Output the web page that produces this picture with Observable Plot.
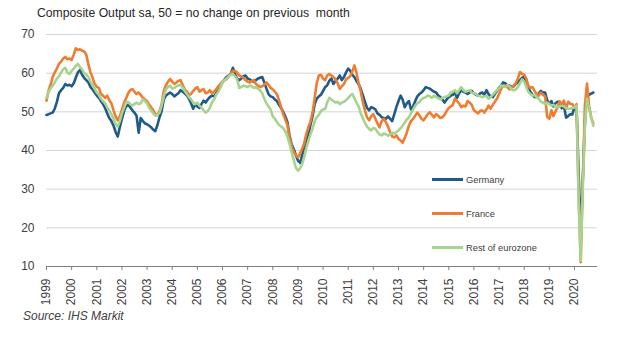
<!DOCTYPE html>
<html><head><meta charset="utf-8">
<script src="https://cdn.jsdelivr.net/npm/d3@7"></script>
<script src="https://cdn.jsdelivr.net/npm/@observablehq/plot@0.6"></script>
<style>
body{margin:0;background:#fff;font-family:"Liberation Sans",Arial,sans-serif;}
#wrap{position:relative;width:620px;height:341px;overflow:hidden;background:#fff;}
#title{position:absolute;left:37px;top:5px;font-size:12.2px;line-height:16px;color:#262626;white-space:pre;}
#chart{position:absolute;left:0;top:26px;}
#source{position:absolute;left:23px;top:308px;font-size:12px;line-height:16px;font-style:italic;color:#404040;}
.leg{position:absolute;left:432px;height:14px;font-size:9.3px;line-height:14px;color:#404040;white-space:nowrap;}
.leg span.sw{display:inline-block;width:31px;height:3px;vertical-align:middle;margin-right:3px;position:relative;top:-1px;}
</style>
</head><body>
<div id="wrap">
  <div id="title">Composite Output sa, 50 = no change on previous  month</div>
  <div id="chart"></div>
  <div id="legend"></div>
  <div id="source">Source: IHS Markit</div>
</div>
<script>
const seriesNames = ["Germany", "France", "Rest of eurozone"];
const seriesColors = ["#1f5b88", "#ee7d31", "#a6d38e"];
const startYear = 1999;
const yearTicks = [1999,2000,2001,2002,2003,2004,2005,2006,2007,2008,2009,2010,2011,2012,2013,2014,2015,2016,2017,2018,2019,2020];
const yTicks = [10,20,30,40,50,60,70];

const germany = [
49.2,49.4,49.6,49.8,50.8,52.6,54.8,55.6,56.2,57.2,56.8,57.0,
56.6,57.4,58.8,60.2,60.8,59.6,58.8,58.2,57.6,56.4,55.8,55.0,
54.2,53.6,52.8,52.0,51.0,49.6,48.4,47.6,46.4,44.8,43.6,46.0,
48.2,50.2,51.4,51.8,51.2,50.4,49.8,49.0,44.6,48.4,47.6,47.0,
46.8,46.4,46.0,45.4,45.0,46.6,48.6,50.2,53.2,54.2,54.6,55.0,
54.6,54.0,54.4,54.8,55.6,55.2,54.8,54.2,53.4,52.2,50.8,51.8,
51.4,51.0,52.0,52.9,52.4,53.2,53.8,54.2,54.0,54.8,55.8,56.8,
57.6,58.4,59.0,59.4,59.8,61.4,59.8,58.6,58.2,58.6,59.2,59.4,
58.6,58.4,58.0,57.8,58.2,58.6,58.8,59.0,57.6,56.0,54.6,54.0,
53.8,53.2,52.8,51.8,51.0,50.0,48.8,47.4,43.8,41.6,40.4,38.8,
37.4,36.8,38.6,40.6,42.6,44.2,46.6,48.8,52.0,53.4,54.0,54.4,
55.4,56.4,56.8,58.0,58.6,57.2,58.0,58.6,59.4,58.2,59.0,60.2,
61.2,60.6,59.6,59.0,58.0,57.2,56.0,54.4,52.6,51.0,50.4,51.2,
51.0,50.6,49.6,49.2,48.6,48.4,48.2,48.8,48.2,47.6,49.4,51.2,
52.8,54.2,53.2,51.2,52.2,52.8,50.6,51.4,52.8,54.0,54.6,55.0,
55.6,56.4,56.2,56.0,55.6,55.2,55.0,54.2,53.8,53.2,52.4,53.2,
53.8,54.2,54.4,55.0,53.6,54.8,55.6,55.2,55.0,54.6,55.0,55.4,
54.8,54.4,54.2,54.8,55.0,54.4,55.6,54.6,54.0,53.8,54.6,55.4,
56.2,56.8,57.6,57.4,56.8,56.8,56.4,56.6,57.2,57.6,58.2,58.8,
59.0,57.6,56.2,55.2,54.4,53.8,54.2,54.8,55.4,55.0,55.0,53.0,
52.1,52.8,51.4,52.2,52.6,52.6,50.9,51.7,48.5,48.9,49.4,49.3,
51.2,50.7,35.0,17.4,32.3,47.0,55.3,54.4,54.7,55.0
];

const france = [
52.9,55.6,57.0,59.0,60.2,61.2,62.4,63.0,63.8,64.2,63.6,63.8,
63.4,64.8,66.4,66.0,66.2,65.8,65.6,64.8,62.2,60.2,58.8,57.2,
56.4,56.2,54.6,54.2,53.6,54.2,53.0,52.2,50.4,48.8,47.8,48.8,
50.6,52.4,53.4,54.8,55.6,55.9,55.2,54.6,55.0,54.4,53.6,53.2,
52.8,51.8,51.2,50.4,49.4,49.2,50.2,52.0,55.4,56.8,57.8,58.5,
57.8,57.2,57.6,58.0,58.2,57.0,55.8,55.2,54.4,54.6,55.4,56.0,
56.4,55.2,55.6,55.9,54.8,55.0,55.6,54.8,55.2,55.8,56.6,57.2,
57.8,58.2,58.4,59.2,59.8,60.6,60.6,60.2,59.4,59.2,58.8,58.2,
57.8,57.6,58.0,58.2,57.2,56.8,56.4,56.6,57.0,57.6,57.0,56.2,
55.8,55.2,54.6,53.0,51.2,49.4,48.0,46.6,43.2,41.2,39.6,38.8,
38.2,39.2,40.4,41.8,44.2,46.0,47.4,49.8,53.6,57.4,59.4,59.6,
58.6,58.2,59.4,59.8,59.4,59.0,58.4,57.4,55.9,56.6,57.2,58.4,
58.8,59.2,60.4,62.0,60.2,57.4,55.4,52.6,50.4,48.6,47.8,48.8,
49.4,48.2,47.0,46.0,47.6,48.2,47.4,46.2,44.8,43.6,43.4,43.9,
43.0,42.6,42.0,43.2,44.6,46.4,47.6,48.2,49.0,49.8,49.1,48.2,
47.8,48.6,49.4,49.9,49.2,48.6,49.4,49.0,48.4,48.6,49.2,50.2,
51.0,51.4,51.8,53.4,52.8,52.2,51.2,51.6,51.4,52.8,52.4,51.8,
50.4,50.0,49.6,50.2,50.4,49.8,50.6,51.6,50.8,51.8,52.6,53.4,
54.6,56.0,56.8,56.6,56.4,55.8,56.2,56.8,57.4,58.6,60.3,59.8,
59.6,58.6,56.8,56.2,56.4,55.4,54.6,54.2,55.0,54.4,54.0,48.7,
48.2,50.4,48.9,50.1,51.2,52.7,51.9,52.9,50.8,52.6,52.1,52.0,
51.1,52.0,28.9,11.1,32.1,51.7,57.3,51.6,48.5,47.0
];

const restOfEurozone = [
53.6,55.2,56.0,56.8,57.6,58.6,59.2,60.2,61.0,61.4,60.2,59.8,
60.6,61.2,61.8,62.4,61.6,61.0,60.0,59.6,59.0,57.8,57.0,55.9,
55.0,54.4,53.4,52.8,52.2,51.2,50.4,49.4,48.2,46.8,46.2,47.6,
49.6,51.0,52.4,52.6,52.0,51.6,52.0,52.4,52.0,52.2,53.2,52.8,
52.2,51.0,50.4,49.6,49.0,49.2,49.8,51.6,54.0,55.8,56.4,56.8,
56.0,56.2,56.6,56.8,57.0,56.2,55.4,54.6,53.8,53.2,52.4,52.0,
52.4,51.6,51.2,50.4,49.8,50.2,51.0,52.4,53.2,54.4,55.2,56.2,
57.6,58.2,58.6,59.2,59.6,59.8,59.2,58.4,56.2,56.4,56.8,56.6,
56.4,56.8,56.6,56.2,56.4,56.0,55.6,54.8,53.4,52.2,51.4,50.6,
48.8,48.2,47.4,46.6,46.2,45.8,45.0,43.6,41.8,39.6,37.6,35.6,
34.8,35.4,36.4,38.2,40.6,42.4,44.2,45.6,47.6,48.6,49.2,50.2,
50.6,50.8,52.4,53.6,53.2,52.8,52.4,52.6,52.0,52.4,52.6,53.0,
53.6,54.2,54.6,53.6,52.4,51.4,49.6,48.4,47.2,46.2,45.6,45.2,
45.8,45.6,44.8,44.2,43.9,44.4,44.2,43.8,44.2,44.6,44.4,44.8,
45.2,45.8,46.4,47.2,48.0,48.6,49.6,50.6,51.6,52.2,52.6,53.2,
53.6,53.8,54.2,54.0,53.6,54.2,53.8,53.6,53.2,53.6,53.8,54.0,
54.2,55.0,55.2,55.6,54.8,55.6,56.4,55.6,55.2,55.4,55.6,55.0,
54.8,54.6,54.2,54.0,53.8,54.0,54.2,53.4,53.8,54.4,55.0,55.6,
56.0,56.8,56.6,56.4,57.0,56.6,55.8,55.6,55.8,56.4,57.4,58.4,
57.8,56.4,55.2,54.6,54.2,54.4,53.8,53.4,52.6,52.4,52.0,52.4,
52.0,51.6,51.8,51.4,51.2,51.4,51.6,51.4,51.0,50.8,50.8,51.0,
51.2,51.6,28.0,11.5,30.0,46.5,53.4,51.0,48.4,46.4
];

const seriesValues = [germany, france, restOfEurozone];
const monthDate = (i) => new Date(Date.UTC(startYear, i, 1));
const tables = seriesValues.map(vals => vals.map((v, i) => ({date: monthDate(i), value: v})));
const yearDates = yearTicks.map(y => new Date(Date.UTC(y, 0, 1)));

const chart = Plot.plot({
  width: 620,
  height: 280,
  marginLeft: 46,
  marginRight: 23,
  marginTop: 8,
  marginBottom: 40,
  style: {fontFamily: "'Liberation Sans', Arial, sans-serif", fontSize: "12px", color: "#404040", background: "white", overflow: "visible"},
  x: {type: "utc", domain: [new Date(Date.UTC(1999, 0, 1)), new Date(Date.UTC(2020, 11, 1))], label: null},
  y: {domain: [10, 70], label: null},
  marks: [
    Plot.gridY(yTicks.filter(t => t > 10), {stroke: "#d4d4d4", strokeOpacity: 1, strokeWidth: 1}),
    Plot.axisY({ticks: yTicks, tickSize: 0, tickPadding: 12, fontSize: 12, fill: "#404040", label: null}),
    Plot.ruleY([10], {stroke: "#7f7f7f", strokeWidth: 1}),
    Plot.axisX({ticks: yearDates, tickFormat: d3.utcFormat("%Y"), tickRotate: -90, tickSize: 4, tickPadding: 8, stroke: "#7f7f7f", fill: "#404040", fontSize: 12, label: null}),
    ...tables.map((t, k) => Plot.line(t, {x: "date", y: "value", stroke: seriesColors[k], strokeWidth: 2.6, strokeLinejoin: "round"}))
  ]
});
document.getElementById("chart").appendChild(chart);

const legendTops = [173, 207, 241];
const leg = document.getElementById("legend");
seriesNames.forEach((n, k) => {
  const d = document.createElement("div");
  d.className = "leg";
  d.style.top = legendTops[k] + "px";
  d.innerHTML = `<span class="sw" style="background:${seriesColors[k]}"></span>${n}`;
  leg.appendChild(d);
});
</script>
</body></html>
